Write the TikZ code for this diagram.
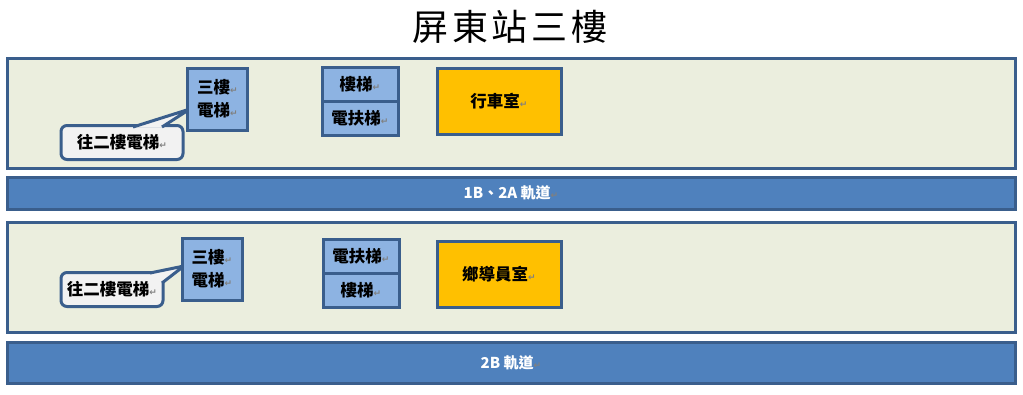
\documentclass[tikz,border=0pt]{standalone}
\usepackage{fontspec}
\usetikzlibrary{calc}
\newfontfamily\cjk{Noto Sans CJK TC}
\newfontfamily\dejavu{DejaVu Sans}
\definecolor{zonefill}{HTML}{EBEEDE}
\definecolor{edge}{HTML}{3A5E8C}
\definecolor{bandfill}{HTML}{4F81BD}
\definecolor{liftfill}{HTML}{8DB3E2}
\definecolor{roomfill}{HTML}{FFC000}
\definecolor{callfill}{HTML}{F2F2F2}
\newcommand\parmark{{\dejavu\fontsize{9}{9}\selectfont\color{gray}↵}}
\begin{document}
\begin{tikzpicture}[x=1pt,y=-1pt,
  base/.style={draw=edge, line width=3pt, inner sep=0pt, outer sep=0pt, font=\cjk\bfseries\fontsize{16.5}{23}\selectfont},
  zone/.style={base, fill=zonefill, minimum width=1008pt, minimum height=110pt},
  band/.style={base, fill=bandfill, minimum width=1008pt, text=white, font=\cjk\bfseries\fontsize{15}{18}\selectfont},
  lift/.style={base, fill=liftfill, minimum width=60pt, minimum height=62pt, align=center},
  stair/.style={base, fill=liftfill, minimum width=76pt, minimum height=34pt},
  room/.style={base, fill=roomfill, minimum width=124pt, minimum height=66pt},
  callout/.style={base, fill=callfill, rounded corners=6pt, minimum height=34pt}
]
\useasboundingbox (0,0) rectangle (1023,394);
\node[font=\cjk\fontsize{36}{40}\selectfont] (title) at (510,27) {屏\hspace{4pt}東\hspace{4pt}站\hspace{4pt}三\hspace{4pt}樓};

% zones and tracks
\node[zone] (z1) at (511,113) {};
\node[band, minimum height=32pt] (b1) at (511,193) {1B、2A 軌道\parmark};
\node[zone] (z2) at (511,277) {};
\node[band, minimum height=41pt] (b2) at (511,362.5) {2B 軌道\parmark};

% upper floor area
\node[callout, minimum width=122pt] (c1) at (122,142.5) {往二樓電梯\parmark};
\coordinate (c1a) at (133,127);
\coordinate (c1b) at (162,127);
\coordinate (c1tip) at (190,109);
\fill[callfill] (c1a) -- (c1tip) -- (c1b) -- cycle;
\draw[draw=edge, line width=3pt] (c1a) -- (c1tip) -- (c1b);
\fill[callfill] ($(c1a)+(1.5,0.5)$) -- ($(c1b)+(-1.5,0.5)$) -- ($(c1b)+(-1.5,3)$) -- ($(c1a)+(1.5,3)$) -- cycle;
\node[lift] (l1) at (217.5,99) {三樓\parmark\\電梯\parmark};
\node[stair] (s1a) at (360,84) {樓梯\parmark};
\node[stair] (s1b) at (360,118) {電扶梯\parmark};
\node[room] (r1) at (499,101) {行車室\parmark};

% lower floor area
\node[callout, minimum width=102pt] (c2) at (112,289.5) {往二樓電梯\parmark};
\coordinate (c2a) at (150,273);
\coordinate (c2b) at (162,283);
\coordinate (c2tip) at (184,266);
\fill[callfill] (c2a) -- (c2tip) -- (c2b) -- cycle;
\draw[draw=edge, line width=3pt] (c2a) -- (c2tip) -- (c2b);
\fill[callfill] (149,274.5) -- (160.5,274.5) -- (160.5,284) -- (149,284) -- cycle;
\node[lift] (l2) at (212,269) {三樓\parmark\\電梯\parmark};
\node[stair] (s2a) at (361,256) {電扶梯\parmark};
\node[stair] (s2b) at (361,290) {樓梯\parmark};
\node[room] (r2) at (499,274) {鄉導員室\parmark};
\end{tikzpicture}
\end{document}
